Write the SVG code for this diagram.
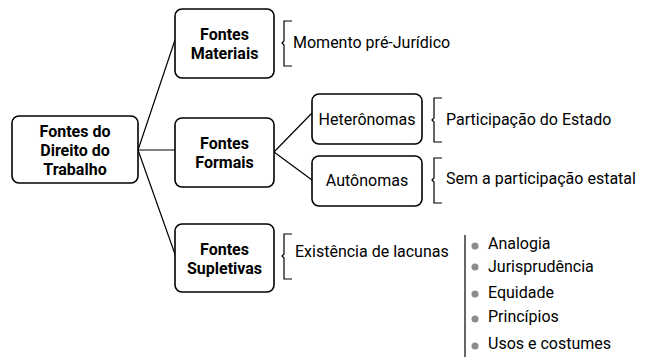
<svg xmlns="http://www.w3.org/2000/svg" width="646" height="357" viewBox="0 0 646 357">
<style>
.box{fill:#fff;stroke:#000;stroke-width:1.6}
.ln{fill:none;stroke:#000;stroke-width:1.2}
.br{fill:none;stroke:#000;stroke-width:1.2}
.b{font-family:Roboto,"Liberation Sans",sans-serif;font-weight:bold;font-size:16px;fill:#000;text-anchor:middle}
.t{font-family:Roboto,"Liberation Sans",sans-serif;font-size:16px;fill:#000}
.dot{fill:#8c8c8c}
</style>
<rect width="646" height="357" fill="#fff"/>
<g id="connectors">
<path class="ln" d="M138,150 L175,40 M138,150 L175,150 M138,150 L176,257 M274,152 L312,113 M274,152 L312,180"/>
<path class="br" d="M292,21 H284 V41 L282,43 L284,45 V66 H292"/>
<path class="br" d="M442,98 H434 V118 L432,120 L434,122 V142 H442"/>
<path class="br" d="M442,158 H434 V178 L432,180 L434,182 V203 H442"/>
<path class="br" d="M292,234 H284 V254 L282,256 L284,258 V279 H292"/>
<path class="ln" d="M465,235 V357"/>
</g>
<g id="root">
<rect class="box" x="12" y="116" width="126" height="67" rx="7"/>
<text class="b" x="75" y="137">Fontes do</text>
<text class="b" x="75" y="156">Direito do</text>
<text class="b" x="75" y="175">Trabalho</text>
</g>
<g id="materiais">
<rect class="box" x="175" y="9" width="99" height="69" rx="7"/>
<text class="b" x="224.500" y="40">Fontes</text>
<text class="b" x="224.500" y="59">Materiais</text>
</g>
<g id="formais">
<rect class="box" x="175" y="118" width="99" height="69" rx="7"/>
<text class="b" x="224.500" y="149">Fontes</text>
<text class="b" x="224.500" y="168">Formais</text>
</g>
<g id="supletivas">
<rect class="box" x="175" y="224" width="99" height="68" rx="7"/>
<text class="b" x="224.500" y="255">Fontes</text>
<text class="b" x="224.500" y="274">Supletivas</text>
</g>
<g id="heteronomas">
<rect class="box" x="312" y="94" width="110" height="50" rx="7"/>
<text class="t" x="367" y="125" text-anchor="middle">Heterônomas</text>
</g>
<g id="autonomas">
<rect class="box" x="312" y="156" width="110" height="50" rx="7"/>
<text class="t" x="367" y="186" text-anchor="middle">Autônomas</text>
</g>
<g id="labels">
<text class="t" x="293" y="48">Momento pré-Jurídico</text>
<text class="t" x="446" y="125">Participação do Estado</text>
<text class="t" x="446" y="184">Sem a participação estatal</text>
<text class="t" x="295" y="257">Existência de lacunas</text>
</g>
<g id="list">
<circle class="dot" cx="475" cy="246" r="3.5"/>
<text class="t" x="488" y="249">Analogia</text>
<circle class="dot" cx="475" cy="267" r="3.5"/>
<text class="t" x="488" y="272">Jurisprudência</text>
<circle class="dot" cx="475" cy="294" r="3.5"/>
<text class="t" x="488" y="298">Equidade</text>
<circle class="dot" cx="475" cy="319" r="3.5"/>
<text class="t" x="488" y="322">Princípios</text>
<circle class="dot" cx="475" cy="346" r="3.5"/>
<text class="t" x="488" y="349">Usos e costumes</text>
</g>
</svg>
